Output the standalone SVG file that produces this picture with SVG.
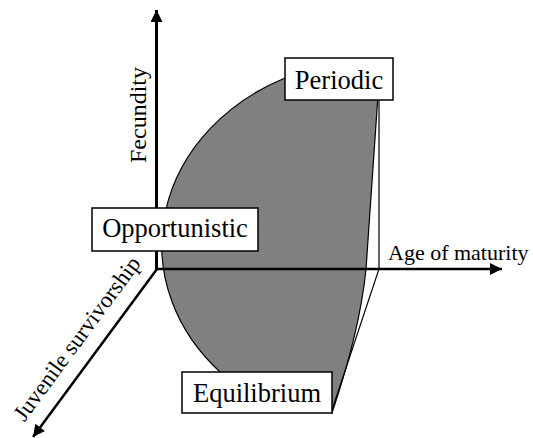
<svg xmlns="http://www.w3.org/2000/svg" width="533" height="438" viewBox="0 0 533 438">
<style>
.box{fill:#fff;stroke:#000;stroke-width:1.5}
text{font-family:'Liberation Serif','Times New Roman',serif;fill:#000}
.node{font-size:26.5px;text-anchor:middle}
.axis{stroke:#000;fill:none}
</style>
<defs>
<marker id="ah" viewBox="0 0 10 10" refX="10" refY="5" markerWidth="13" markerHeight="12" markerUnits="userSpaceOnUse" orient="auto">
<path d="M0,0 L10,5 L0,10 Z" fill="#000"/>
</marker>
</defs>
<rect width="533" height="438" fill="#fff"/>
<g id="region">
<path d="M285,78 A218,186 0 0 0 220,372 L332,413 Q360,330 366,269 L378,95 L378,70 L290,70 Z" fill="#808080" stroke="#000" stroke-width="1.2"/>
<polyline points="379,100 379,269 331,413" fill="none" stroke="#000" stroke-width="1.2"/>
</g>
<g id="connectors">
<line class="axis" x1="156.5" y1="270" x2="156.5" y2="10" stroke-width="3" marker-end="url(#ah)"/>
<line class="axis" x1="155" y1="269" x2="502" y2="269" stroke-width="2.5" marker-end="url(#ah)"/>
<line class="axis" x1="157" y1="269" x2="33" y2="437" stroke-width="2.5" marker-end="url(#ah)"/>
</g>
<g id="axis-labels">
<text font-family="Liberation Serif, serif" x="0" y="0" font-size="24" text-anchor="middle" transform="translate(146,115) rotate(-90)">Fecundity</text>
<text font-family="Liberation Serif, serif" x="388" y="260" font-size="22">Age of maturity</text>
<text font-family="Liberation Serif, serif" x="0" y="0" font-size="23" text-anchor="middle" transform="translate(83,343) rotate(-53.6)">Juvenile survivorship</text>
</g>
<g id="node-periodic">
<rect class="box" x="285" y="58" width="108" height="42"/>
<text class="node" font-family="Liberation Serif, serif" x="339" y="88.5">Periodic</text>
</g>
<g id="node-opportunistic">
<rect class="box" x="92" y="208" width="166" height="43"/>
<text class="node" font-family="Liberation Serif, serif" x="175" y="237">Opportunistic</text>
</g>
<g id="node-equilibrium">
<rect class="box" x="182" y="372" width="150" height="41"/>
<text class="node" font-family="Liberation Serif, serif" x="257" y="402">Equilibrium</text>
</g>
</svg>
